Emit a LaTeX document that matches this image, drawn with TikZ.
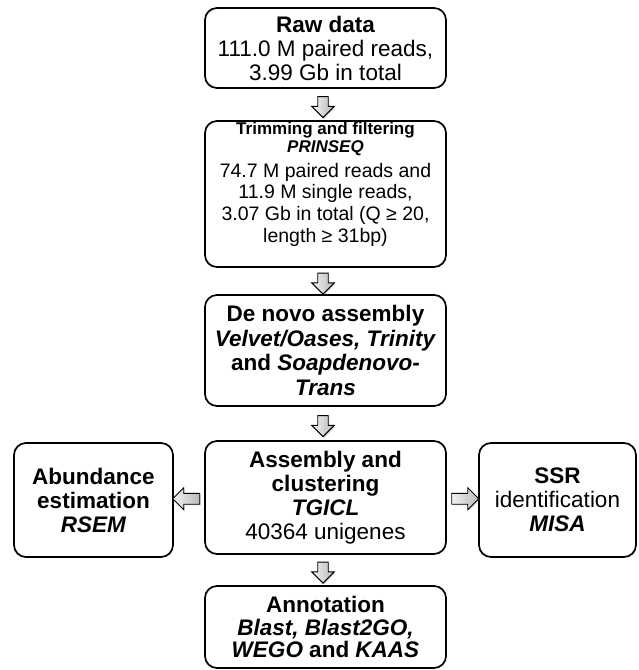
\documentclass[tikz,border=0pt]{standalone}
\usepackage{fontspec}
\setmainfont{Liberation Sans}
\usetikzlibrary{shapes.arrows,shadows,calc}
\begin{document}
\begin{tikzpicture}[x=1pt,y=-1pt,
  box/.style={draw=black, line width=1.7pt, rounded corners=12pt, align=center, inner sep=0pt, text=black},
  midbox/.style={box, minimum width=241pt},
  big/.style={font=\fontsize{22.5}{24}\selectfont},
  arrowbase/.style={single arrow, draw=black, line width=0.9pt, single arrow head extend=6pt,
    left color=gray!10, right color=gray!55,
    drop shadow={shadow xshift=1.2pt, shadow yshift=-1.2pt, opacity=0.3}},
  varrow/.style={arrowbase, inner sep=4.8pt, minimum height=21pt},
  harrow/.style={arrowbase, inner sep=5pt, single arrow head extend=5.5pt, minimum height=27pt}]
\useasboundingbox (0,0) rectangle (638,670);
% boxes
\node[midbox, big, minimum height=80pt] (raw) at (325.5,48)
  {\textbf{Raw data}\\111.0 M paired reads,\\3.99 Gb in total};
\node[midbox, minimum height=146pt] (trim) at (325.5,194) {};
\node[align=center, inner sep=0pt, font=\fontsize{19.5}{21.7}\selectfont] (trimtext) at (325.5,184)
  {{\fontsize{17}{18}\selectfont\textbf{Trimming and filtering}}\\[-3.7pt]
   {\fontsize{17}{18}\selectfont\textbf{\textit{PRINSEQ}}}\\[3.3pt]
   74.7 M paired reads and\\11.9 M single reads,\\3.07 Gb in total (Q ≥ 20,\\length ≥ 31bp)};
\node[midbox, minimum height=111pt, font=\fontsize{22.5}{24.5}\selectfont] (denovo) at (325.5,350.5)
  {\textbf{De novo assembly}\\\textbf{\textit{Velvet/Oases, Trinity}}\\\textbf{and \textit{Soapdenovo-}}\\\textbf{\textit{Trans}}};
\node[midbox, big, minimum height=113pt] (asm) at (325.5,497.5)
  {\textbf{Assembly and}\\\textbf{clustering}\\\textbf{\textit{TGICL}}\\40364 unigenes};
\node[box, big, minimum width=159pt, minimum height=114pt] (abund) at (93.5,500)
  {\textbf{Abundance}\\\textbf{estimation}\\\textbf{\textit{RSEM}}};
\node[box, big, minimum width=157pt, minimum height=114pt] (ssr) at (557.5,500)
  {\textbf{SSR}\\identification\\\textbf{\textit{MISA}}};
\node[midbox, minimum height=82pt, font=\fontsize{22.5}{22.5}\selectfont] (annot) at (325.5,627)
  {\textbf{Annotation}\\\textbf{\textit{Blast, Blast2GO,}}\\\textbf{\textit{WEGO} and \textit{KAAS}}};
% arrows
\node[varrow, rotate=-90] (a1) at ($(raw.south)!0.5!(trim.north)+(-2.5,0)$) {};
\node[varrow, rotate=-90] (a2) at ($(trim.south)!0.5!(denovo.north)+(-2.5,0)$) {};
\node[varrow, rotate=-90] (a3) at ($(denovo.south)!0.5!(asm.north)+(-2.5,0)$) {};
\node[varrow, rotate=-90] (a4) at ($(asm.south)!0.5!(annot.north)+(-2.5,0)$) {};
\node[harrow, rotate=180] (a5) at ($(asm.west)!0.5!(abund.east)$) {};
\node[harrow] (a6) at ($(asm.east)!0.5!(ssr.west)$) {};
\end{tikzpicture}
\end{document}
